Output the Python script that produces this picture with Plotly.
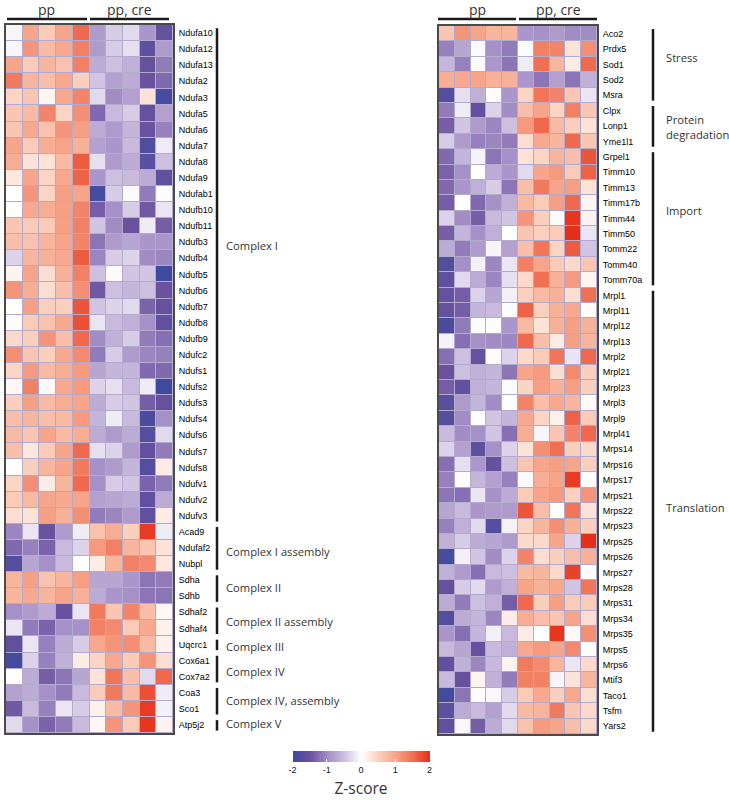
import plotly.graph_objects as go

genes_left = ["Ndufa10","Ndufa12","Ndufa13","Ndufa2","Ndufa3","Ndufa5","Ndufa6","Ndufa7","Ndufa8","Ndufa9",
"Ndufab1","Ndufb10","Ndufb11","Ndufb3","Ndufb4","Ndufb5","Ndufb6","Ndufb7","Ndufb8","Ndufb9",
"Ndufc2","Ndufs1","Ndufs2","Ndufs3","Ndufs4","Ndufs6","Ndufs7","Ndufs8","Ndufv1","Ndufv2","Ndufv3",
"Acad9","Ndufaf2","Nubpl","Sdha","Sdhb","Sdhaf2","Sdhaf4","Uqcrc1","Cox6a1","Cox7a2","Coa3","Sco1","Atp5j2"]

z_left = [
[-.08,1.0,.55,1.0,1.55,-.85,-.4,-.3,-.9,-1.55],
[-.08,1.15,.75,.95,1.35,-.85,-.4,-.25,-1.65,-.85],
[1.0,.55,.8,.65,1.35,-.7,-.5,-.65,-1.55,-1.15],
[1.4,.8,.7,.95,.5,-.45,-.8,-.7,-1.5,-1.3],
[.45,.6,.1,.95,1.3,-.3,-1.0,-.8,.3,-1.9],
[.6,.75,1.3,.45,1.2,-1.3,-.55,-.4,-1.55,-.8],
[.6,.95,.65,1.15,1.05,-.7,-.85,-.6,-1.5,-1.1],
[1.0,.55,.9,1.0,.85,-.8,-.9,-.55,-1.8,-.15],
[.9,.3,.3,.75,1.65,-.25,-.85,-.7,-1.7,-.5],
[.25,1.0,.45,.95,1.6,-.9,-.5,-.55,-.7,-1.6],
[0,1.15,.45,1.05,1.0,-1.9,-.4,-.05,-1.15,-.02],
[.03,.95,.9,1.05,1.3,-1.4,-.95,-.4,-1.45,-.2],
[.6,.55,.55,1.05,1.35,-.45,-1.0,-1.5,-.15,-1.4],
[.7,.65,.8,1.0,1.3,-1.2,-.85,-.75,-.9,-.9],
[-.35,.8,.85,.95,1.65,-1.05,-.4,-.35,-1.0,-1.05],
[.12,1.0,.35,.85,1.35,-.5,-.05,-.45,-.45,-2.0],
[1.15,.9,.35,.7,1.2,-1.45,-.5,-.6,-.5,-1.5],
[0,1.05,.5,.5,1.7,-.45,-.35,-.3,-1.35,-1.55],
[-.03,.55,.65,.95,1.75,-.2,-.55,-.65,-.95,-1.6],
[.4,.5,1.15,.7,1.55,-1.0,-.65,-.4,-1.15,-1.25],
[1.2,.6,.5,.95,1.25,-1.15,-.4,-.85,-1.05,-1.1],
[.45,1.1,.75,.9,1.1,-.75,-.6,-.6,-1.3,-1.3],
[.08,1.35,.05,.95,1.1,-.35,-.25,-.55,-.15,-2.0],
[.5,1.05,.75,.9,1.0,-.7,-.4,-.45,-1.4,-1.55],
[.7,.8,.7,.75,1.1,-.6,-.15,-.55,-1.85,-.95],
[.75,.6,1.0,.75,.9,-.7,-.85,-.7,-1.75,-.3],
[.7,.25,.55,1.0,1.55,-.25,-.35,-.85,-1.6,-1.15],
[0,.5,.8,1.0,1.4,-.95,-.85,-.6,-1.75,.2],
[.45,1.2,.2,.8,1.55,-.95,-.4,-.45,-1.35,-1.15],
[.55,.75,1.0,.95,1.0,-.8,-.75,-.7,-1.6,-.7],
[.35,.3,1.05,.85,1.2,-1.15,-1.05,-.85,-1.6,.2],
[-1.05,-.2,-1.5,-.85,-.15,.65,.9,.5,1.9,-.15],
[-1.3,-1.1,-1.35,-.55,-.35,1.1,1.35,.8,.6,.3],
[-1.75,-.75,-.95,-.55,0,.2,.8,1.35,1.25,.25],
[.8,1.05,.65,.8,1.05,-.75,-.75,-.9,-1.2,-1.15],
[.8,.95,.8,1.0,.85,-.7,-.9,-.95,-1.2,-1.2],
[-.95,-.85,-.7,-1.55,-.2,1.4,.6,1.3,.7,.08],
[-.2,-1.15,-1.35,-.95,-.95,1.35,1.25,.55,.95,.15],
[-1.6,-.2,-1.1,-.7,-.4,.95,1.15,1.2,.75,.15],
[-1.95,-.35,-1.1,-.65,.2,.45,.95,.55,1.15,.35],
[.02,-.7,-1.4,-1.2,-.75,.3,1.45,.7,-.3,1.55],
[-.8,-.7,-.95,-1.15,-.55,.55,1.4,.75,1.75,-.15],
[-1.45,-.55,-1.1,-.2,-.4,.15,.75,1.15,1.9,-.12],
[-.3,-.95,-1.35,-1.15,-.55,.08,1.15,.55,1.95,.12],
]

genes_right = ["Aco2","Prdx5","Sod1","Sod2","Msra","Clpx","Lonp1","Yme1l1","Grpel1","Timm10","Timm13","Timm17b",
"Timm44","Timm50","Tomm22","Tomm40","Tomm70a","Mrpl1","Mrpl11","Mrpl12","Mrpl13","Mrpl2","Mrpl21","Mrpl23",
"Mrpl3","Mrpl9","Mrpl41","Mrps14","Mrps16","Mrps17","Mrps21","Mrps22","Mrps23","Mrps25","Mrps26","Mrps27",
"Mrps28","Mrps31","Mrps34","Mrps35","Mrps5","Mrps6","Mtif3","Taco1","Tsfm","Yars2"]

z_right = [
[.6,1.15,1.0,.8,.8,-.9,-.95,-.85,-1.0,-1.0],
[-1.1,-.75,-.05,-.95,-1.15,-.03,1.35,1.3,.3,1.2],
[-.6,-1.1,-.03,-.9,-1.2,-.15,1.5,.8,.2,1.55],
[.9,.95,1.0,.85,.85,-.9,-1.2,-.8,-1.2,-.65],
[-1.75,-.25,-.65,.02,-.9,.45,1.45,1.3,.6,-.2],
[-1.15,-.15,-1.6,-.35,-1.0,.7,1.0,.45,1.35,.6],
[-1.4,-.45,-.85,-1.05,-.5,1.1,1.55,.75,.5,.3],
[-.4,-.85,-1.1,-1.05,-1.15,.35,.95,.8,1.55,.6],
[-1.3,-.6,-.1,-1.2,-.95,.3,.45,.8,.7,1.7],
[-1.35,-.95,0,-.7,-.9,-.3,1.0,1.1,.55,1.6],
[-1.3,-.9,-.65,-.4,-1.2,.7,1.4,1.0,1.05,.3],
[-1.4,0,-1.3,-.95,-.65,.75,.55,1.05,1.55,.1],
[-.35,-1.0,-1.4,-.55,-.45,1.15,.5,-.05,1.95,.12],
[-1.4,-.6,-.95,-.65,0,.6,.5,.55,2.0,-.2],
[-.7,-1.15,-.85,-.08,-.8,.7,1.45,.45,1.65,-.45],
[-1.75,-.95,-.12,-1.05,-.2,1.35,1.0,.55,.4,.6],
[-1.6,-.3,-.7,-1.05,-.25,.4,1.5,.85,1.1,.1],
[-1.55,-1.4,-.35,-.75,-.12,.5,.75,.85,.35,1.5],
[-1.55,-1.4,-.6,-.55,-.02,1.6,.5,.85,.95,.03],
[-1.85,-1.15,-.02,-.02,-.9,.75,.3,.85,1.05,.85],
[-.1,-1.25,-.95,-1.0,-1.05,1.55,.7,.2,1.05,.8],
[-1.25,-.5,-1.55,-.02,-.35,.4,.55,1.45,-.2,1.55],
[-1.5,-.5,-.65,-.6,-1.2,1.0,1.1,.35,1.25,.5],
[-1.4,-1.6,-.65,-.6,-.03,.45,1.05,.85,1.05,.5],
[-1.7,-.85,-.6,-1.0,0,1.3,.7,.95,.8,.05],
[-1.75,-1.0,0,-.45,-.6,.95,.45,.15,1.6,.55],
[-.55,-1.0,-.95,-.45,-1.25,.9,-.07,.6,1.3,1.55],
[-.35,-.8,-1.65,-.95,-.35,.3,1.2,1.5,.5,.4],
[-1.25,-.25,-.9,-1.55,-.5,.6,1.0,1.05,1.0,.5],
[-1.1,-.02,-.6,-.8,-1.1,-.05,.9,1.0,1.9,0],
[-1.2,-1.25,-.2,-.95,-.7,.55,1.0,1.1,.5,1.15],
[-.75,-.55,-.9,-.85,-.85,1.7,.7,0,1.45,.3],
[-1.1,-.65,-.3,-1.75,-.1,.45,.8,1.2,.85,.5],
[-.65,-.4,-.7,-.75,-.85,.4,.4,1.0,-.35,2.0],
[-1.9,-.12,-.45,-1.0,-.35,1.3,.35,.5,.7,.85],
[-.65,-.85,-1.25,-.55,-.5,.75,.8,.4,1.85,.02],
[-1.55,-.4,-.3,-.85,-.65,1.0,.85,.95,-.45,1.45],
[-.7,-1.15,-.5,-.65,-1.4,1.55,.5,1.05,.55,.55],
[-1.75,-.7,-.6,-1.05,.2,.9,.7,.6,1.0,.35],
[-.9,-1.25,-.6,-.12,-.55,.2,0,1.95,.06,1.2],
[-.55,-.75,-1.55,-.55,-.65,.95,1.1,1.0,1.25,-.02],
[-1.6,-.65,-1.05,-.55,.12,1.4,1.25,.8,-.2,.4],
[-.55,-1.55,.12,-.65,-1.15,1.35,1.35,-.08,.3,.8],
[-1.95,-1.2,.02,-.06,-.4,.55,.95,.5,.95,.35],
[-1.65,-.7,-.55,-.8,-.3,.75,.8,1.4,.6,.4],
[-1.6,-.06,-1.4,-.7,-.3,.65,1.1,1.0,.7,.4],
]

# (label, first gene, last gene, label centre as px from top)
groups_left = [
("Complex I","Ndufa10","Ndufv3",245),
("Complex I assembly","Acad9","Nubpl",551),
("Complex II","Sdha","Sdhb",587),
("Complex II assembly","Sdhaf2","Sdhaf4",621),
("Complex III","Uqcrc1","Uqcrc1",646),
("Complex IV","Cox6a1","Cox7a2",671),
("Complex IV, assembly","Coa3","Sco1",700),
("Complex V","Atp5j2","Atp5j2",723),
]
groups_right = [
("Stress","Aco2","Msra",57),
("Protein<br>degradation","Clpx","Yme1l1",127),
("Import","Grpel1","Tomm70a",211),
("Translation","Mrpl1","Yars2",507),
]
colorbar_ticks = [-2, -1, 0, 1, 2]
colorbar_labels = ["-2", "-1", "0", "1", "2"]

W, H = 729, 800
colorscale = [
[0.0,"#3d4a9e"],[0.125,"#6a529f"],[0.25,"#a18cc4"],[0.375,"#cdbfe0"],[0.5,"#ffffff"],
[0.625,"#fbcfbd"],[0.75,"#f6a48a"],[0.875,"#ef7053"],[1.0,"#e62e18"],
]
TICK_FONT = dict(family="Liberation Sans, Arial, sans-serif", size=9, color="#000000")
LABEL_FONT = dict(family="Open Sans, sans-serif", size=11.2, color="#333333")
HEAD_FONT = dict(family="Open Sans, sans-serif", size=14, color="#333333")

def px_x(v): return v / W
def px_y(v): return 1 - v / H

fig = go.Figure()
panels = [
    dict(genes=genes_left, z=z_left, xa="x", ya="y", xd=(6, 173), yd=(25, 733), groups=groups_left,
         barx=217, labx=224, heads=[("pp", 7, 87), ("pp, cre", 90, 169)]),
    dict(genes=genes_right, z=z_right, xa="x2", ya="y2", xd=(439, 597), yd=(26, 734), groups=groups_right,
         barx=653, labx=664, heads=[("pp", 438, 516), ("pp, cre", 519, 597)]),
]
shapes, annotations = [], []
layout_axes = {}
for i, p in enumerate(panels):
    rows = list(range(len(p["genes"])))
    fig.add_trace(go.Heatmap(z=p["z"], x=list(range(10)), y=rows, coloraxis="coloraxis",
                             xgap=1, ygap=1, xaxis=p["xa"], yaxis=p["ya"], hoverinfo="skip"))
    sfx = "" if i == 0 else "2"
    layout_axes["xaxis" + sfx] = dict(domain=[px_x(p["xd"][0]), px_x(p["xd"][1])], showticklabels=False,
        ticks="", showgrid=False, zeroline=False, showline=True, mirror=True, linecolor="#4a4a4a", linewidth=2,
        range=[-0.5, 9.5], anchor=p["ya"])
    layout_axes["yaxis" + sfx] = dict(domain=[px_y(p["yd"][1]), px_y(p["yd"][0])], tickmode="array", tickvals=rows,
        ticktext=p["genes"], tickfont=TICK_FONT, side="right", ticks="", showgrid=False, zeroline=False,
        showline=True, mirror=True, linecolor="#4a4a4a", linewidth=2,
        range=[len(rows) - 0.5, -0.5], anchor=p["xa"], ticklabelstandoff=2)
    for name, first, last, yc in p["groups"]:
        shapes.append(dict(type="line", xref="paper", yref=p["ya"], x0=px_x(p["barx"]), x1=px_x(p["barx"]),
                           y0=p["genes"].index(first) - 0.3, y1=p["genes"].index(last) + 0.35,
                           line=dict(color="#1a1a1a", width=2.5)))
        annotations.append(dict(text=name, xref="paper", yref="paper", x=px_x(p["labx"]), y=px_y(yc),
                                xanchor="left", yanchor="middle", align="left", showarrow=False, font=LABEL_FONT))
    for name, x0, x1 in p["heads"]:
        shapes.append(dict(type="line", xref="paper", yref="paper", x0=px_x(x0), x1=px_x(x1), y0=px_y(19), y1=px_y(19),
                           line=dict(color="#1a1a1a", width=2.5)))
        annotations.append(dict(text=name, xref="paper", yref="paper", x=px_x((x0 + x1) / 2), y=px_y(10),
                                xanchor="center", yanchor="middle", showarrow=False, font=HEAD_FONT))

fig.update_layout(
    width=W, height=H, margin=dict(l=0, r=0, t=0, b=0, autoexpand=False), paper_bgcolor="white", plot_bgcolor="#b3abcd",
    showlegend=False, shapes=shapes, annotations=annotations,
    coloraxis=dict(cmin=-2, cmax=2, colorscale=colorscale, colorbar=dict(
        orientation="h", x=px_x(361), xanchor="center", y=px_y(751), yanchor="top",
        len=137, lenmode="pixels", thickness=11, thicknessmode="pixels", outlinewidth=0, xpad=0, ypad=0,
        tickmode="array", tickvals=colorbar_ticks, ticktext=colorbar_labels, ticks="inside", ticklen=3,
        tickcolor="white", tickwidth=1,
        tickfont=dict(family="Liberation Sans, Arial, sans-serif", size=9, color="#111111"),
        title=dict(text="Z-score", side="bottom", font=dict(family="Open Sans, sans-serif", size=15.5, color="#333333")),
    )),
    **layout_axes,
)
fig.write_html("out.html", config=dict(displayModeBar=False), post_script="document.body.style.margin='0';")
